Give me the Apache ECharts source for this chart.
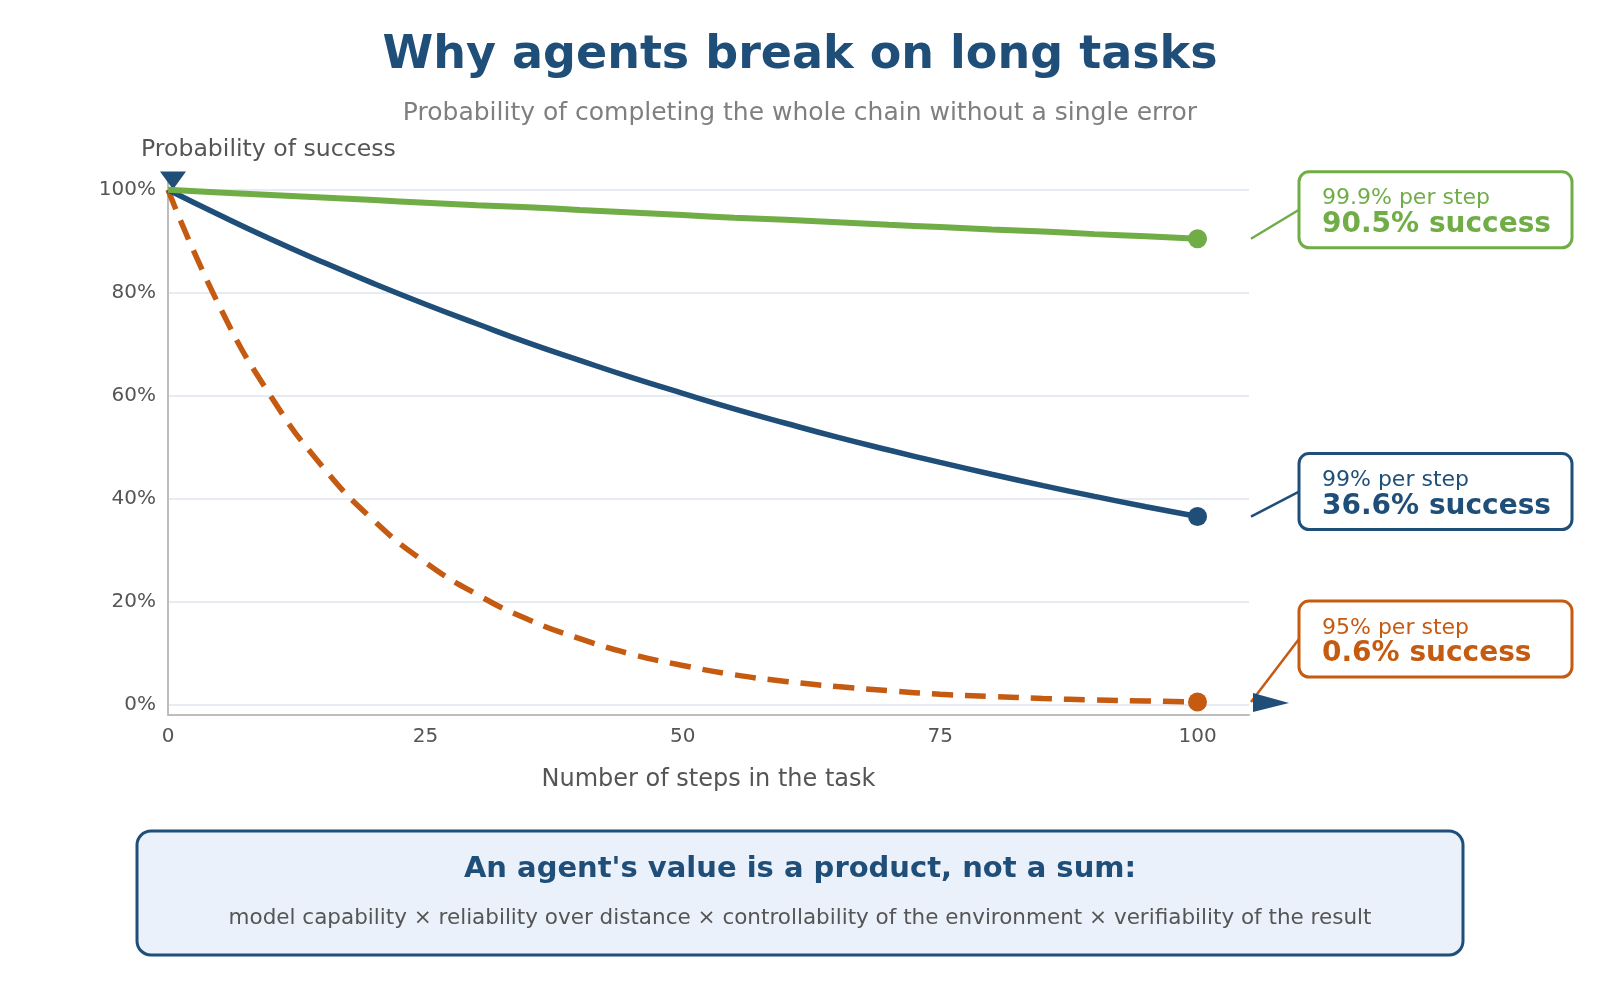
<!DOCTYPE html>
<html>
<head>
<meta charset="utf-8">
<title>Why agents break on long tasks</title>
<script src="https://cdn.jsdelivr.net/npm/echarts@6/dist/echarts.min.js"></script>
<style>
  html, body { margin: 0; padding: 0; background: #fff; }
  #main { width: 1600px; height: 1000px; }
</style>
</head>
<body>
<div id="main"></div>
<script>
// number of steps (x axis)
const steps = [0, 5, 10, 15, 20, 25, 30, 35, 40, 45, 50, 55, 60, 65, 70, 75, 80, 85, 90, 95, 100];
// success probability in %
const rate999 = [100, 99.5, 99, 98.5, 98, 97.5, 97, 96.6, 96.1, 95.6, 95.1, 94.6, 94.2, 93.7, 93.2, 92.8, 92.3, 91.9, 91.4, 91, 90.5];
const rate99 = [100, 95.1, 90.4, 86, 81.8, 77.8, 74, 70.3, 66.9, 63.6, 60.5, 57.5, 54.7, 52, 49.5, 47.1, 44.8, 42.6, 40.5, 38.5, 36.6];
const rate95 = [100, 77.4, 59.9, 46.3, 35.8, 27.7, 21.5, 16.6, 12.9, 9.9, 7.7, 5.9, 4.6, 3.6, 2.8, 2.1, 1.7, 1.3, 1, 0.8, 0.6];
const seriesNames = ['99.9% per step', '99% per step', '95% per step'];
const successLabels = ['90.5% success', '36.6% success', '0.6% success'];
const yTicks = [0, 20, 40, 60, 80, 100];
const xTicks = [0, 25, 50, 75, 100];

const FONT = 'DejaVu Sans';
const GREEN = '#70ad47', BLUE = '#1f4e79', ORANGE = '#c55a11';
const colors = [GREEN, BLUE, ORANGE];
const allRates = [rate999, rate99, rate95];

const chart = echarts.init(document.getElementById('main'));

function pairs(arr) {
  return steps.map((s, i) => [s, arr[i]]);
}

const lineSeries = allRates.map((arr, i) => ({
  name: seriesNames[i],
  type: 'line',
  smooth: true,
  symbol: 'none',
  data: pairs(arr),
  z: 5 - i,
  lineStyle: {
    color: colors[i],
    width: i === 0 ? 6 : 5.5,
    type: i === 2 ? [21, 12] : 'solid',
    cap: 'butt'
  }
}));

// end point dots at step 100
const endSeries = allRates.map((arr, i) => ({
  type: 'scatter',
  symbol: 'circle',
  symbolSize: 19,
  z: 10,
  itemStyle: { color: colors[i], opacity: 1 },
  data: [[steps[steps.length - 1], arr[arr.length - 1]]]
}));

const option = {
  animation: false,
  backgroundColor: '#ffffff',
  textStyle: { fontFamily: FONT },
  title: [
    {
      text: 'Why agents break on long tasks',
      left: 'center', top: 33, padding: 0,
      textStyle: { fontFamily: FONT, fontSize: 46, fontWeight: 'bold', color: BLUE }
    },
    {
      text: 'Probability of completing the whole chain without a single error',
      left: 'center', top: 101, padding: 0,
      textStyle: { fontFamily: FONT, fontSize: 25, fontWeight: 'normal', color: '#7f7f7f' }
    },
    {
      text: 'Probability of success',
      left: 141, top: 138, padding: 0,
      textStyle: { fontFamily: FONT, fontSize: 23.6, fontWeight: 'normal', color: '#555555' }
    }
  ],
  grid: { left: 168, right: 351, top: 179.5, bottom: 285.6, containLabel: false },
  xAxis: {
    type: 'value',
    min: 0, max: 105, interval: 25,
    name: 'Number of steps in the task',
    nameLocation: 'middle',
    nameGap: 53,
    nameTextStyle: { fontFamily: FONT, fontSize: 24, color: '#555555' },
    axisLine: { onZero: false, lineStyle: { color: '#bdbdbd', width: 2 } },
    axisTick: { show: false, customValues: xTicks },
    axisLabel: { customValues: xTicks, margin: 12, fontFamily: FONT, fontSize: 20, color: '#555555' },
    splitLine: { show: false }
  },
  yAxis: {
    type: 'value',
    min: -1.8, max: 102,
    axisLine: { show: true, lineStyle: { color: '#bdbdbd', width: 2 } },
    axisTick: { show: false, customValues: yTicks },
    axisLabel: { customValues: yTicks, formatter: '{value}%', margin: 12, padding: [4, 0, 0, 0], fontFamily: FONT, fontSize: 20, color: '#555555' },
    splitLine: { show: true, lineStyle: { color: '#dfe5ef', width: 1.5 } }
  },
  series: lineSeries.concat(endSeries)
};

chart.setOption(option);

// decorations placed from the chart's own scales
const graphic = [];
const yTop = chart.convertToPixel({ gridIndex: 0 }, [0, 102]);
graphic.push({
  type: 'polygon', z: 1,
  shape: { points: [[yTop[0] - 8, yTop[1] - 8], [yTop[0] + 18, yTop[1] - 8], [yTop[0] + 5, yTop[1] + 10]] },
  style: { fill: BLUE }
});
const xEnd = chart.convertToPixel({ gridIndex: 0 }, [105, 0]);
graphic.push({
  type: 'polygon', z: 1,
  shape: { points: [[xEnd[0] + 4, xEnd[1] - 12], [xEnd[0] + 40, xEnd[1] - 2], [xEnd[0] + 4, xEnd[1] + 7]] },
  style: { fill: BLUE }
});

const boxLeft = 1299, boxW = 273, boxH = 76;
const boxShift = [-29, -25, -63];
allRates.forEach((arr, i) => {
  const p = chart.convertToPixel({ gridIndex: 0 }, [105, arr[arr.length - 1]]);
  const cy = p[1] + boxShift[i];
  const top = cy - boxH / 2;
  graphic.push({
    type: 'line',
    shape: { x1: p[0] + 2, y1: p[1], x2: boxLeft, y2: cy },
    style: { stroke: colors[i], lineWidth: 2.5 }
  });
  graphic.push({
    type: 'rect',
    shape: { x: boxLeft, y: top, width: boxW, height: boxH, r: 10 },
    style: { fill: '#ffffff', stroke: colors[i], lineWidth: 3 }
  });
  graphic.push({
    type: 'text', x: boxLeft + 23, y: top + 27,
    style: { text: seriesNames[i], fill: colors[i], font: '22px "DejaVu Sans"', verticalAlign: 'middle', align: 'left' }
  });
  graphic.push({
    type: 'text', x: boxLeft + 23, y: top + 53,
    style: { text: successLabels[i], fill: colors[i], font: 'bold 28px "DejaVu Sans"', verticalAlign: 'middle', align: 'left' }
  });
});

// takeaway box at the bottom
graphic.push({
  type: 'rect',
  shape: { x: 137, y: 831, width: 1326, height: 124, r: 14 },
  style: { fill: '#eaf1fb', stroke: BLUE, lineWidth: 3 }
});
graphic.push({
  type: 'text', x: 800, y: 869,
  style: { text: "An agent's value is a product, not a sum:", fill: BLUE, font: 'bold 29px "DejaVu Sans"', align: 'center', verticalAlign: 'middle' }
});
graphic.push({
  type: 'text', x: 800, y: 918,
  style: { text: 'model capability \u00d7 reliability over distance \u00d7 controllability of the environment \u00d7 verifiability of the result', fill: '#555555', font: '21.5px "DejaVu Sans"', align: 'center', verticalAlign: 'middle' }
});

chart.setOption({ graphic: graphic });
</script>
</body>
</html>
